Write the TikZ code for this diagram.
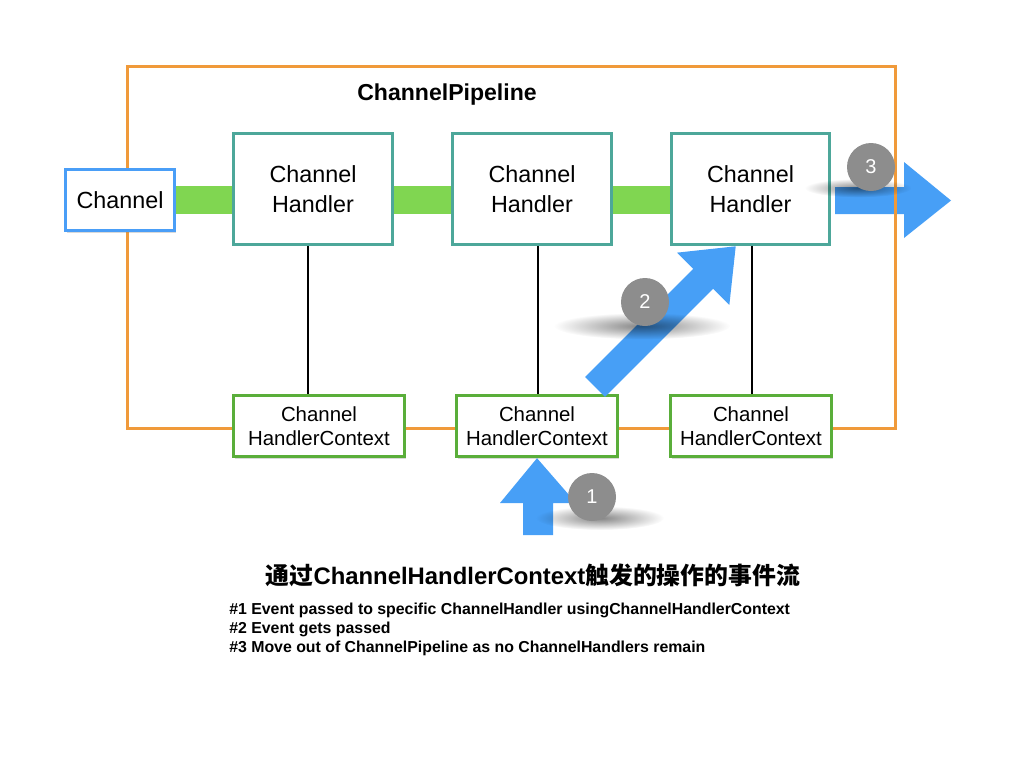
\documentclass[tikz,border=0pt]{standalone}
\usepackage{fontspec}
\setmainfont{Liberation Sans}
\newfontfamily\cjk{Noto Sans CJK SC}
\usetikzlibrary{shadows,fadings}
\pgfdeclarelayer{bg}
\pgfdeclarelayer{bgbars}
\pgfsetlayers{bg,bgbars,main}
\tikzfading[name=softfade, inner color=transparent!20, outer color=transparent!100]
\definecolor{orng}{HTML}{F09A3A}
\definecolor{chblue}{HTML}{4A9EF7}
\definecolor{tealc}{HTML}{4DA79A}
\definecolor{ctxgreen}{HTML}{5AAE3A}
\definecolor{barg}{HTML}{80D651}
\definecolor{arrblue}{HTML}{479FF6}
\definecolor{cgray}{HTML}{8D8D8D}
\begin{document}
\begin{tikzpicture}[x=0.75pt,y=-0.75pt,
  shad/.style={drop shadow={opacity=0.3,shadow xshift=1pt,shadow yshift=-1.5pt}},
  chanbox/.style={draw=chblue,line width=2.25pt,fill=white,minimum width=82pt,minimum height=46pt,inner sep=0pt,font=\fontsize{17.5}{22}\selectfont,shad},
  handler/.style={draw=tealc,line width=2.25pt,fill=white,minimum width=119pt,minimum height=83pt,inner sep=0pt,align=center,font=\fontsize{17.5}{22}\selectfont,shad},
  ctx/.style={draw=ctxgreen,line width=2.25pt,fill=white,minimum width=121pt,minimum height=46pt,inner sep=0pt,align=center,font=\fontsize{15.3}{18}\selectfont,shad},
  bar/.style={draw=barg,line width=21pt},
  blockarrow/.style={fill=arrblue},
  num/.style={circle,fill=cgray,minimum size=36pt,inner sep=0pt,text=white,font=\fontsize{15}{15}\selectfont},
  numshadow/.style={fill=black,opacity=0.6,path fading=softfade},
  note/.style={anchor=base west,inner sep=0pt,font=\fontsize{11.9}{14}\selectfont\bfseries}]
\useasboundingbox (0,0) rectangle (1024,768);

% nodes
\node[chanbox] (ch) at (120,200) {Channel};
\node[handler] (h1) at (313,189) {Channel\\Handler};
\node[handler] (h2) at (532,189) {Channel\\Handler};
\node[handler] (h3) at (750.5,189) {Channel\\Handler};
\node[ctx,minimum width=128pt] (c1) at (319,426) {Channel\\HandlerContext};
\node[ctx] (c2) at (537,426) {Channel\\HandlerContext};
\node[ctx] (c3) at (751,426) {Channel\\HandlerContext};

\begin{pgfonlayer}{bg}
  % arrow 3 (below the pipeline frame)
  \coordinate (a3) at (h3.east |- ch.east);
  \fill[blockarrow] (835,187) -- (904,187) -- (904,162) -- (951,200.5) -- (904,238) -- (904,214) -- (835,214) -- cycle;
  % pipeline frame
  \draw[orng,line width=2.25pt] (127,66) rectangle (895,428);
\end{pgfonlayer}
\begin{pgfonlayer}{bgbars}
  \draw[bar] (ch.east) -- (ch.east -| h1.west);
  \draw[bar] (h1.east |- ch.east) -- (h2.west |- ch.east);
  \draw[bar] (h2.east |- ch.east) -- (h3.west |- ch.east);
\end{pgfonlayer}

\node[anchor=base,inner sep=0pt,font=\fontsize{17.3}{20}\selectfont\bfseries] (title) at (447,100) {ChannelPipeline};

% links handler - context
\draw[line width=0.8pt] ([xshift=-3.75pt]h1.south) -- ([xshift=-3.75pt]h1.south |- c1.north);
\draw[line width=0.8pt] ([xshift=4.5pt]h2.south) -- ([xshift=4.5pt]h2.south |- c2.north);
\draw[line width=0.8pt] ([xshift=1.1pt]h3.south) -- ([xshift=1.1pt]h3.south |- c3.north);

% arrow 1
\coordinate (a1) at (c2.south);
\fill[blockarrow] (523,535) -- (523,503) -- (500,503) -- (a1) -- (576,503) -- (553,503) -- (553,535) -- cycle;

% arrow 2
\begin{scope}[shift={(595,387)},rotate=45]
  \fill[blockarrow] (0,-14) -- (153,-14) -- (153,-37) -- (199,0) -- (153,37) -- (153,14) -- (0,14) -- cycle;
\end{scope}

% number badges
\fill[numshadow] (600,518) ellipse [x radius=48pt,y radius=9pt];
\fill[numshadow] (642,326) ellipse [x radius=66pt,y radius=10pt];
\fill[numshadow] (858,188) ellipse [x radius=40pt,y radius=7pt];
\node[num] (n1) at (592,497) {1};
\node[num] (n2) at (645,302) {2};
\node[num] (n3) at (871,167) {3};

% caption
\node[inner sep=0pt,font=\fontsize{17.9}{20}\selectfont] (cap) at (533,575)
  {{\cjk\bfseries 通过}{\bfseries ChannelHandlerContext}{\cjk\bfseries 触发的操作的事件流}};
\node[note] (l1) at (229,614) {\#1 Event passed to specific ChannelHandler usingChannelHandlerContext};
\node[note] (l2) at (229,633) {\#2 Event gets passed};
\node[note] (l3) at (229,652) {\#3 Move out of ChannelPipeline as no ChannelHandlers remain};
\end{tikzpicture}
\end{document}
